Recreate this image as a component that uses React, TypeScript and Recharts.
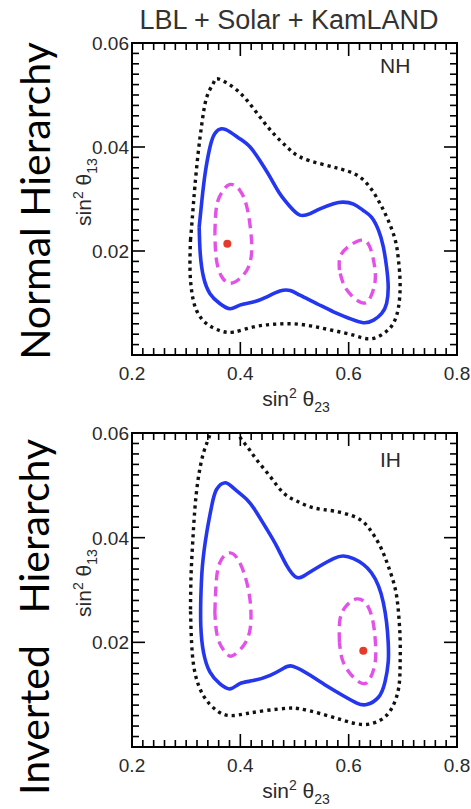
import React from 'react';
import { LineChart, Line, XAxis, YAxis, ReferenceArea, ReferenceDot } from 'recharts';

type Pt = { x: number; y: number };

// ---- ticks ----
const xMajorTicks = [0.2, 0.4, 0.6, 0.8];
const xTickLabels = ['0.2', '0.4', '0.6', '0.8'];
const yMajorTicks = [0.02, 0.04, 0.06];
const yTickLabels = ['0.02', '0.04', '0.06'];
const xAllTicks = Array.from({ length: 31 }, (_, i) => +(0.2 + i * 0.02).toFixed(3));
const yAllTicks = Array.from({ length: 31 }, (_, i) => +(i * 0.002).toFixed(4));

// ---- Normal hierarchy contours (sin^2 theta23, sin^2 theta13) ----
const nhOuter: [number, number][] = [
  [0.308, 0.0221], [0.312, 0.0272], [0.316, 0.0323], [0.322, 0.0387], [0.329, 0.0445], [0.338, 0.0496],
  [0.35, 0.0522], [0.359, 0.0531], [0.387, 0.0515], [0.412, 0.049], [0.436, 0.0458], [0.461, 0.0426],
  [0.486, 0.04], [0.51, 0.0381], [0.547, 0.0368], [0.584, 0.0358], [0.615, 0.0346], [0.639, 0.0323],
  [0.658, 0.0291], [0.673, 0.0259], [0.686, 0.0221], [0.692, 0.0182], [0.695, 0.0137], [0.692, 0.0092],
  [0.682, 0.006], [0.664, 0.0041], [0.639, 0.0031], [0.609, 0.0038], [0.572, 0.0047], [0.535, 0.0055],
  [0.498, 0.006], [0.461, 0.0059], [0.424, 0.0054], [0.387, 0.0044], [0.362, 0.0047], [0.338, 0.006],
  [0.319, 0.0086], [0.31, 0.0124], [0.307, 0.0169], [0.308, 0.0221],
];
const nhSolid: [number, number][] = [
  [0.324, 0.0246], [0.329, 0.0297], [0.335, 0.0349], [0.344, 0.04], [0.353, 0.0426], [0.3655, 0.0435],
  [0.381, 0.0429], [0.399, 0.0416], [0.418, 0.04], [0.436, 0.0374], [0.455, 0.0342], [0.473, 0.031],
  [0.492, 0.0285], [0.51, 0.0269], [0.529, 0.0272], [0.547, 0.0281], [0.572, 0.0291], [0.59, 0.0294],
  [0.609, 0.029], [0.627, 0.0278], [0.642, 0.0265], [0.655, 0.024], [0.664, 0.0208], [0.67, 0.0169],
  [0.673, 0.0131], [0.67, 0.0099], [0.661, 0.008], [0.646, 0.0067], [0.627, 0.0062], [0.602, 0.007],
  [0.572, 0.0083], [0.541, 0.0099], [0.51, 0.0115], [0.492, 0.0124], [0.473, 0.0123], [0.449, 0.0112],
  [0.424, 0.0102], [0.399, 0.0096], [0.381, 0.0089], [0.362, 0.0099], [0.344, 0.0118], [0.332, 0.015],
  [0.326, 0.0195], [0.324, 0.0246],
];
const nhDashLeft: [number, number][] = [
  [0.353, 0.0233], [0.356, 0.0285], [0.366, 0.0313], [0.381, 0.0328], [0.399, 0.0317], [0.412, 0.0285],
  [0.419, 0.024], [0.421, 0.0201], [0.415, 0.0169], [0.399, 0.0147], [0.381, 0.0138], [0.366, 0.015],
  [0.356, 0.0182], [0.353, 0.0233],
];
const nhDashRight: [number, number][] = [
  [0.583, 0.0163], [0.584, 0.0188], [0.599, 0.0208], [0.624, 0.0221], [0.639, 0.0208], [0.647, 0.0176],
  [0.649, 0.0144], [0.642, 0.0115], [0.63, 0.01], [0.612, 0.0108], [0.593, 0.0131], [0.583, 0.0163],
];
const nhBest: [number, number] = [0.376, 0.0214];

// ---- Inverted hierarchy contours ----
const ihOuter: [number, number][] = [
  [0.308, 0.0263], [0.309, 0.0327], [0.312, 0.039], [0.316, 0.0454], [0.322, 0.0511], [0.332, 0.0562],
  [0.344, 0.0597], [0.353, 0.0625], [0.375, 0.065], [0.393, 0.0625], [0.399, 0.0594], [0.412, 0.0575],
  [0.43, 0.0549], [0.455, 0.0517], [0.479, 0.0486], [0.504, 0.047], [0.535, 0.0457], [0.572, 0.0451],
  [0.615, 0.0438], [0.639, 0.0416], [0.658, 0.0384], [0.673, 0.0346], [0.686, 0.0302], [0.692, 0.0257],
  [0.695, 0.0206], [0.695, 0.0156], [0.692, 0.0111], [0.679, 0.0073], [0.658, 0.0051], [0.627, 0.0043],
  [0.59, 0.0051], [0.547, 0.0064], [0.51, 0.0073], [0.486, 0.0074], [0.449, 0.007], [0.412, 0.0064],
  [0.381, 0.006], [0.356, 0.007], [0.332, 0.0098], [0.316, 0.0143], [0.31, 0.02], [0.308, 0.0263],
];
const ihSolid: [number, number][] = [
  [0.327, 0.0283], [0.33, 0.0346], [0.338, 0.041], [0.347, 0.046], [0.356, 0.0492], [0.372, 0.0505],
  [0.387, 0.0495], [0.412, 0.0473], [0.43, 0.0448], [0.449, 0.0416], [0.467, 0.0384], [0.486, 0.0346],
  [0.504, 0.0324], [0.522, 0.033], [0.547, 0.0346], [0.572, 0.036], [0.59, 0.0365], [0.609, 0.036],
  [0.627, 0.0349], [0.642, 0.0333], [0.655, 0.0308], [0.664, 0.0276], [0.67, 0.0238], [0.673, 0.02],
  [0.673, 0.0162], [0.667, 0.0124], [0.655, 0.0095], [0.633, 0.0081], [0.615, 0.0084], [0.59, 0.0098],
  [0.559, 0.0117], [0.529, 0.0137], [0.498, 0.0154], [0.479, 0.015], [0.455, 0.0137], [0.424, 0.0127],
  [0.399, 0.0121], [0.381, 0.0111], [0.362, 0.0121], [0.344, 0.0143], [0.332, 0.0181], [0.327, 0.0232],
  [0.327, 0.0283],
];
const ihDashLeft: [number, number][] = [
  [0.353, 0.0257], [0.355, 0.0308], [0.362, 0.0352], [0.381, 0.0371], [0.399, 0.0352], [0.412, 0.0314],
  [0.419, 0.027], [0.418, 0.0225], [0.406, 0.0194], [0.387, 0.0175], [0.375, 0.0178], [0.359, 0.0206],
  [0.353, 0.0257],
];
const ihDashRight: [number, number][] = [
  [0.583, 0.02], [0.584, 0.0244], [0.596, 0.027], [0.615, 0.0283], [0.633, 0.0273], [0.644, 0.0244],
  [0.649, 0.0206], [0.649, 0.0162], [0.639, 0.013], [0.627, 0.0121], [0.609, 0.0133], [0.59, 0.0162],
  [0.583, 0.02],
];
const ihBest: [number, number] = [0.627, 0.0184];

const toPts = (a: [number, number][]): Pt[] => a.map(([x, y]) => ({ x, y }));

const TICK_FONT = "'Liberation Sans', Arial, Helvetica, sans-serif";
const TEXT_COLOR = '#2a2a2a';

type PanelProps = {
  top: number;
  height: number;
  plotTop: number;
  plotH: number;
  outer: [number, number][];
  solid: [number, number][];
  dashL: [number, number][];
  dashR: [number, number][];
  best: [number, number];
};

const PLOT_LEFT = 132;
const PLOT_W = 325;
const CHART_W = 471;

function Panel({ top, height, plotTop, plotH, outer, solid, dashL, dashR, best }: PanelProps) {
  const xAxisH = 30;
  const yAxisW = 60;
  const margin = {
    top: plotTop,
    right: CHART_W - PLOT_LEFT - PLOT_W,
    bottom: height - plotTop - plotH - xAxisH,
    left: PLOT_LEFT - yAxisW,
  };

  const XTick = (props: any) => {
    const { x, y, payload } = props;
    const v = payload.value as number;
    const idx = xMajorTicks.findIndex((m) => Math.abs(m - v) < 1e-6);
    const L = idx >= 0 ? 13 : 7;
    return (
      <g>
        <line x1={x} y1={y} x2={x} y2={y - L} stroke="#000" strokeWidth={1.6} />
        <line x1={x} y1={y - plotH} x2={x} y2={y - plotH + L} stroke="#000" strokeWidth={1.6} />
        {idx >= 0 && (
          <text x={x} y={y + 25} textAnchor="middle" fontSize={19} fill={TEXT_COLOR} fontFamily={TICK_FONT}>
            {xTickLabels[idx]}
          </text>
        )}
      </g>
    );
  };

  const YTick = (props: any) => {
    const { x, y, payload } = props;
    const v = payload.value as number;
    const idx = yMajorTicks.findIndex((m) => Math.abs(m - v) < 1e-7);
    const L = idx >= 0 ? 13 : 7;
    return (
      <g>
        <line x1={x} y1={y} x2={x + L} y2={y} stroke="#000" strokeWidth={1.6} />
        <line x1={x + PLOT_W} y1={y} x2={x + PLOT_W - L} y2={y} stroke="#000" strokeWidth={1.6} />
        {idx >= 0 && (
          <text x={x - 3} y={y + 7} textAnchor="end" fontSize={19} fill={TEXT_COLOR} fontFamily={TICK_FONT}>
            {yTickLabels[idx]}
          </text>
        )}
      </g>
    );
  };

  return (
    <div style={{ position: 'absolute', left: 0, top }}>
      <LineChart width={CHART_W} height={height} margin={margin}>
        <XAxis
          dataKey="x"
          type="number"
          domain={[0.2, 0.8]}
          allowDataOverflow
          ticks={xAllTicks}
          interval={0}
          tickSize={0}
          tickMargin={0}
          tickLine={false}
          axisLine={false}
          height={xAxisH}
          tick={XTick}
        />
        <YAxis
          type="number"
          domain={[0, 0.06]}
          allowDataOverflow
          ticks={yAllTicks}
          interval={0}
          tickSize={0}
          tickMargin={0}
          tickLine={false}
          axisLine={false}
          width={yAxisW}
          tick={YTick}
        />
        <ReferenceArea x1={0.2} x2={0.8} y1={0} y2={0.06} fill="none" stroke="#000" strokeWidth={2} fillOpacity={0} />
        <Line
          data={toPts(outer)}
          dataKey="y"
          type="natural"
          stroke="#111"
          strokeWidth={3.4}
          strokeDasharray="3.2 4"
          dot={false}
          activeDot={false}
          isAnimationActive={false}
        />
        <Line
          data={toPts(solid)}
          dataKey="y"
          type="natural"
          stroke="#2437ef"
          strokeWidth={3.6}
          dot={false}
          activeDot={false}
          isAnimationActive={false}
        />
        <Line
          data={toPts(dashL)}
          dataKey="y"
          type="natural"
          stroke="#e352e8"
          strokeWidth={3.4}
          strokeDasharray="10 6"
          dot={false}
          activeDot={false}
          isAnimationActive={false}
        />
        <Line
          data={toPts(dashR)}
          dataKey="y"
          type="natural"
          stroke="#e352e8"
          strokeWidth={3.4}
          strokeDasharray="10 6"
          dot={false}
          activeDot={false}
          isAnimationActive={false}
        />
        <ReferenceDot x={best[0]} y={best[1]} r={4} fill="#e63b2a" stroke="none" />
      </LineChart>
    </div>
  );
}

function AxisLabels({ plotTop, plotH, tag, tagY }: { plotTop: number; plotH: number; tag: string; tagY: number }) {
  const bottom = plotTop + plotH;
  const cy = plotTop + plotH / 2 - 7;
  return (
    <g fill={TEXT_COLOR} fontFamily={TICK_FONT}>
      <text x={296} y={bottom + 51} textAnchor="middle" fontSize={21}>
        sin<tspan fontSize={14} dy={-8}>2</tspan>
        <tspan dy={8}> θ</tspan>
        <tspan fontSize={14} dy={6}>23</tspan>
      </text>
      <text x={91} y={cy} textAnchor="middle" fontSize={21} transform={`rotate(-90 91 ${cy})`}>
        sin<tspan fontSize={14} dy={-8}>2</tspan>
        <tspan dy={8}> θ</tspan>
        <tspan fontSize={14} dy={6}>13</tspan>
      </text>
      <text x={380} y={tagY} fontSize={21}>
        {tag}
      </text>
    </g>
  );
}

export default function App() {
  return (
    <div style={{ position: 'absolute', left: 0, top: 0, width: 471, height: 809, background: '#fff', overflow: 'hidden' }}>
      <Panel top={0} height={420} plotTop={43} plotH={312} outer={nhOuter} solid={nhSolid} dashL={nhDashLeft} dashR={nhDashRight} best={nhBest} />
      <Panel top={400} height={409} plotTop={33} plotH={314} outer={ihOuter} solid={ihSolid} dashL={ihDashLeft} dashR={ihDashRight} best={ihBest} />
      <svg width={471} height={809} style={{ position: 'absolute', left: 0, top: 0, pointerEvents: 'none' }}>
        <text x={289} y={29} textAnchor="middle" fontSize={27} fill="#333" fontFamily={TICK_FONT}>
          LBL + Solar + KamLAND
        </text>
        <AxisLabels plotTop={43} plotH={312} tag="NH" tagY={73} />
        <AxisLabels plotTop={433} plotH={314} tag="IH" tagY={467} />
        <text x={50} y={201} textAnchor="middle" fontSize={41} fill="#000" fontFamily="Lato, 'Noto Sans', sans-serif" transform="rotate(-90 50 201)">
          Normal Hierarchy
        </text>
        <text x={49} y={617} textAnchor="middle" fontSize={41} fill="#000" fontFamily="Lato, 'Noto Sans', sans-serif" transform="rotate(-90 49 617)" style={{ whiteSpace: 'pre' }}>
          {'Inverted   Hierarchy'}
        </text>
      </svg>
    </div>
  );
}
